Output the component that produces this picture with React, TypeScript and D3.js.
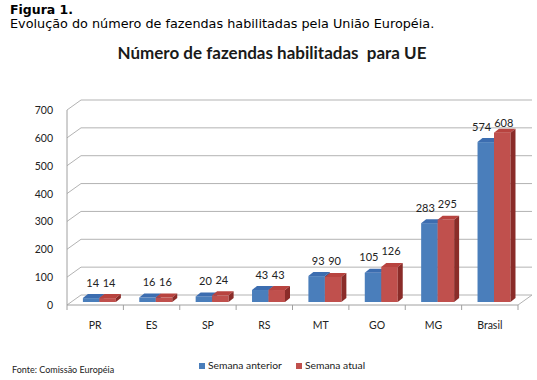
import React from "react";
import * as d3 from "d3";

const categories = ["PR", "ES", "SP", "RS", "MT", "GO", "MG", "Brasil"];
const semanaAnterior = [14, 16, 20, 43, 93, 105, 283, 574];
const semanaAtual = [14, 16, 24, 43, 90, 126, 295, 608];
const seriesNames = ["Semana anterior", "Semana atual"];
const yTicks = [0, 100, 200, 300, 400, 500, 600, 700];

const W = 537;
const H = 380;
const X0 = 67;
const X1 = 518;
const YBASE = 305;
const YTOP = 110;
const DEPTH_X = 14;
const DEPTH_Y = 10;
const BAR_T = 0.3; // bar front plane position in depth
const BAR_DX = 5;
const BAR_DY = 4;

const colors = {
  blue: { front: "#4a7ebb", top: "#3c6db0", side: "#2d5890" },
  red: { front: "#c0504d", top: "#b8433f", side: "#8a2c29" },
};

export default function App() {
  const x = d3.scaleBand<string>().domain(categories).range([X0, X1]).paddingInner(0).paddingOuter(0);
  const inner = d3
    .scaleBand<string>()
    .domain(seriesNames)
    .range([0, x.bandwidth()])
    .paddingOuter(0.71)
    .paddingInner(0);
  const y = d3.scaleLinear().domain([0, 700]).range([YBASE, YTOP]);

  const offX = DEPTH_X * BAR_T;
  const offY = DEPTH_Y * BAR_T;
  const font = "Lato, 'Open Sans', sans-serif";

  const seriesData = [
    { name: seriesNames[0], values: semanaAnterior, c: colors.blue },
    { name: seriesNames[1], values: semanaAtual, c: colors.red },
  ];

  const bars: JSX.Element[] = [];
  const labels: JSX.Element[] = [];
  const charW = 5.7;
  const gap = 5;
  const plotTop = 117;

  categories.forEach((cat, i) => {
    const centers: number[] = [];
    const widths: number[] = [];
    const baselines: number[] = [];
    seriesData.forEach((s, si) => {
      const v = s.values[i];
      const bx0 = (x(cat) as number) + (inner(s.name) as number) + offX;
      const bx1 = bx0 + inner.bandwidth();
      const yb = YBASE - offY;
      const yt = y(v) - offY;
      const c = s.c;
      bars.push(
        <g key={`${cat}-${si}`}>
          <rect x={bx0} y={yt} width={bx1 - bx0} height={yb - yt} fill={c.front} />
          <polygon
            points={`${bx0},${yt} ${bx0 + BAR_DX},${yt - BAR_DY} ${bx1 + BAR_DX},${yt - BAR_DY} ${bx1},${yt}`}
            fill={c.top}
          />
          <polygon
            points={`${bx1},${yt} ${bx1 + BAR_DX},${yt - BAR_DY} ${bx1 + BAR_DX},${yb - BAR_DY} ${bx1},${yb}`}
            fill={c.side}
          />
        </g>
      );
      const label = String(v);
      centers.push((bx0 + bx1) / 2 + 1.5);
      widths.push(label.length * charW);
      baselines.push(Math.max(yt - BAR_DY - 7.5, plotTop + 10));
    });
    // avoid overlap between the two labels
    const need = widths[0] / 2 + widths[1] / 2 + gap;
    if (centers[1] - centers[0] < need) {
      centers[0] = centers[1] - need;
    }
    seriesData.forEach((s, si) => {
      labels.push(
        <text
          key={`l-${cat}-${si}`}
          x={centers[si]}
          y={baselines[si]}
          textAnchor="middle"
          fontSize={11}
          fontFamily={font}
          fill="#222"
        >
          {s.values[i]}
        </text>
      );
    });
  });

  return (
    <svg
      width={W}
      height={H}
      style={{ position: "absolute", left: 0, top: 0, background: "#fff" }}
      xmlns="http://www.w3.org/2000/svg"
    >
      <text x={10} y={14} fontFamily="'DejaVu Sans', Verdana, sans-serif" fontWeight="bold" fontSize={12.5} fill="#000">
        Figura 1.
      </text>
      <text x={10} y={28} fontFamily="'DejaVu Sans', Verdana, sans-serif" fontSize={12.8} fill="#000">
        Evolução do número de fazendas habilitadas pela União Européia.
      </text>
      <text
        x={272}
        y={59}
        textAnchor="middle"
        fontFamily={font}
        fontWeight="bold"
        fontSize={17}
        fill="#1a1a1a"
        xmlSpace="preserve"
      >
        Número de fazendas habilitadas  para UE
      </text>

      {/* gridlines: back wall + left wall diagonals */}
      {yTicks.map((t) => {
        const yf = y(t);
        return (
          <g key={`g-${t}`}>
            <line x1={X0} y1={yf} x2={X0 + DEPTH_X} y2={yf - DEPTH_Y} stroke="#b3b3b3" strokeWidth={1} />
            <line x1={X0 + DEPTH_X} y1={yf - DEPTH_Y} x2={X1 + DEPTH_X} y2={yf - DEPTH_Y} stroke="#b3b3b3" strokeWidth={1} />
            <text x={53} y={yf + 4} textAnchor="end" fontSize={10.5} fontFamily={font} fill="#222">
              {t}
            </text>
          </g>
        );
      })}
      {/* floor right edge */}
      <line x1={X1} y1={YBASE} x2={X1 + DEPTH_X} y2={YBASE - DEPTH_Y} stroke="#b3b3b3" />
      {/* front axis */}
      <line x1={X0} y1={YBASE} x2={X1} y2={YBASE} stroke="#a0a0a0" />
      <line x1={X0} y1={YTOP} x2={X0} y2={YBASE + 5} stroke="#a0a0a0" />
      {categories.map((c) => (
        <line
          key={`t-${c}`}
          x1={(x(c) as number) + x.bandwidth()}
          x2={(x(c) as number) + x.bandwidth()}
          y1={YBASE}
          y2={YBASE + 5}
          stroke="#a0a0a0"
        />
      ))}
      {categories.map((c) => (
        <text
          key={`c-${c}`}
          x={(x(c) as number) + x.bandwidth() / 2}
          y={329}
          textAnchor="middle"
          fontSize={10.5}
          fontFamily={font}
          fill="#222"
        >
          {c}
        </text>
      ))}

      {bars}
      {labels}

      <text x={12} y={373} fontSize={9} fontFamily={font} fill="#222">
        Fonte: Comissão Européia
      </text>
      <rect x={199} y={363} width={6} height={6} fill={colors.blue.front} />
      <text x={208} y={369} fontSize={10.3} fontFamily={font} fill="#222">
        {seriesNames[0]}
      </text>
      <rect x={296} y={363} width={6} height={6} fill={colors.red.front} />
      <text x={305} y={369} fontSize={10.3} fontFamily={font} fill="#222">
        {seriesNames[1]}
      </text>
    </svg>
  );
}
